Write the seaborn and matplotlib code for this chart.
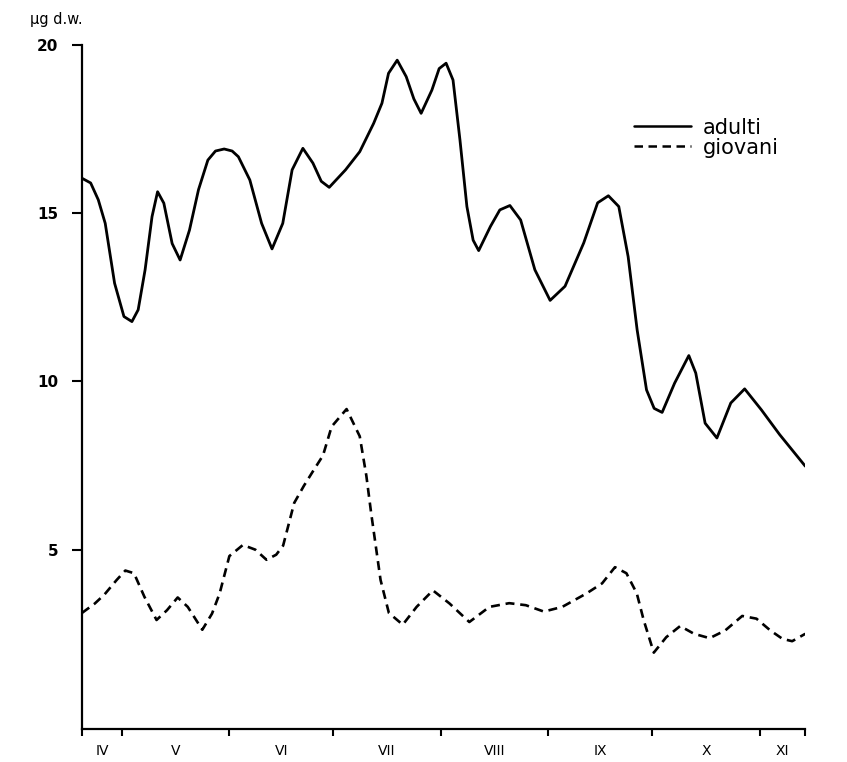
import matplotlib
matplotlib.use("Agg")
import matplotlib.pyplot as plt
import seaborn as sns
import pandas as pd

# Day of year for each reading (Apr .. Nov)
adulti_day = [109.5, 112, 114.2, 116.2, 118.9, 121.6, 123.9, 125.7, 127.7, 129.7,
              131.3, 133.1, 135.5, 137.8, 140.5, 143.1, 145.8, 148.0, 150.5, 152.8,
              154.6, 157.9, 161.3, 164.3, 167.4, 170.1, 173.2, 176.1, 178.5, 180.8,
              185.5, 189.6, 193.6, 196.0, 197.9, 200.4, 203.0, 205.2, 207.3, 210.4,
              212.5, 214.5, 216.5, 218.5, 220.5, 222.3, 223.9, 227.3, 230.0, 232.9,
              236.0, 240.1, 244.5, 248.8, 254.2, 258.2, 261.3, 264.3, 267.0, 269.6,
              272.3, 274.5, 276.8, 280.4, 284.5, 286.5, 289.2, 292.6, 296.6, 300.6,
              305.4, 310.7, 318.1]
adulti_val = [16.04, 15.9, 15.4, 14.7, 12.92, 11.93, 11.78, 12.13, 13.32, 14.9,
              15.64, 15.3, 14.1, 13.61, 14.5, 15.7, 16.58, 16.85, 16.91, 16.85,
              16.68, 15.99, 14.7, 13.94, 14.7, 16.29, 16.93, 16.49, 15.95, 15.77,
              16.29, 16.83, 17.67, 18.27, 19.16, 19.55, 19.06, 18.4, 17.97, 18.66,
              19.3, 19.46, 18.96, 17.18, 15.2, 14.2, 13.89, 14.61, 15.1, 15.23,
              14.8, 13.32, 12.41, 12.83, 14.12, 15.31, 15.52, 15.2, 13.71, 11.53,
              9.75, 9.2, 9.08, 9.95, 10.77, 10.25, 8.76, 8.32, 9.36, 9.78,
              9.16, 8.42, 7.48]

giovani_day = [109.5, 113.2, 116.0, 119.5, 122.0, 124.5, 127.5, 131.0, 134.0, 137.1,
               140.0, 144.2, 147.0, 149.2, 152.0, 155.9, 159.5, 162.7, 165.5, 167.5,
               170.7, 173.5, 176.1, 179.0, 181.5, 185.8, 189.6, 191.5, 192.9, 195.6,
               198.0, 202.0, 206.0, 210.7, 215.5, 221.2, 227.0, 232.7, 237.5, 242.7,
               248.0, 255.0, 259.5, 263.2, 266.5, 269.5, 271.5, 274.4, 278.0, 282.0,
               286.0, 290.5, 295.0, 299.9, 304.0, 308.0, 311.5, 314.3, 318.1]
giovani_val = [3.12, 3.4, 3.67, 4.1, 4.38, 4.3, 3.6, 2.91, 3.2, 3.58,
               3.3, 2.62, 3.1, 3.7, 4.81, 5.14, 5.0, 4.70, 4.85, 5.12,
               6.39, 6.9, 7.33, 7.8, 8.66, 9.18, 8.37, 7.2, 6.08, 4.1,
               3.12, 2.77, 3.3, 3.79, 3.4, 2.85, 3.3, 3.41, 3.35, 3.16,
               3.3, 3.7, 4.0, 4.48, 4.3, 3.7, 2.9, 1.94, 2.4, 2.73,
               2.5, 2.37, 2.6, 3.03, 2.95, 2.6, 2.35, 2.28, 2.50]

month_edges = [109.5, 121, 152, 182, 213, 244, 274, 305, 318]
month_names = ["IV", "V", "VI", "VII", "VIII", "IX", "X", "XI"]
y_ticks = [5, 10, 15, 20]

sns.set_style("ticks")
plt.rcParams['font.family'] = ['DejaVu Sans']
plt.rcParams['text.color'] = 'black'
plt.rcParams['xtick.color'] = 'black'
plt.rcParams['ytick.color'] = 'black'
plt.rcParams['axes.edgecolor'] = 'black'

fig = plt.figure(figsize=(8.47, 7.62), dpi=100)
ax = fig.add_axes([0.0968, 0.0433, 0.8536, 0.8976])

adulti = pd.DataFrame({"giorno": adulti_day, "valore": adulti_val})
giovani = pd.DataFrame({"giorno": giovani_day, "valore": giovani_val})

sns.lineplot(data=adulti, x="giorno", y="valore", ax=ax, color="black",
             linewidth=2.0, estimator=None, label="adulti")
sns.lineplot(data=giovani, x="giorno", y="valore", ax=ax, color="black",
             linewidth=1.9, estimator=None, label="giovani")
ax.lines[0].set_solid_joinstyle("round")
ax.lines[1].set_linestyle((0, (3.4, 2.2)))
ax.lines[1].set_dash_joinstyle("round")

ax.set_xlim(month_edges[0], month_edges[-1])
ax.set_ylim(-0.33, 20)
sns.despine(ax=ax)
for s in ["left", "bottom"]:
    ax.spines[s].set_linewidth(1.6)

# month boundaries as ticks, month names centred between them
ax.set_xticks(month_edges)
ax.set_xticklabels([""] * len(month_edges))
centers = [(a + b) / 2 for a, b in zip(month_edges[:-1], month_edges[1:])]
ax.set_xticks(centers, minor=True)
ax.set_xticklabels(month_names, minor=True)
ax.tick_params(axis="x", which="major", length=5, width=1.5, direction="out")
ax.tick_params(axis="x", which="minor", length=0, pad=11, labelsize=10)

ax.set_yticks(y_ticks)
ax.set_yticklabels([str(v) for v in y_ticks], fontweight="bold")
ax.tick_params(axis="y", length=7, width=1.5, direction="out", pad=10, labelsize=11)

ax.set_xlabel("")
ax.set_ylabel("")

fig.text(0.036, 0.975, "µg d.w.", fontsize=10.5, ha="left", va="center")

leg = ax.legend(loc="upper left", bbox_to_anchor=(0.764, 0.894), frameon=False,
                handlelength=2.7, handletextpad=0.6, fontsize=15,
                labelspacing=0.0, borderpad=0, borderaxespad=0)
for h in leg.get_lines():
    h.set_linewidth(1.8)

fig.savefig("out.png", dpi=100)
plt.close(fig)
